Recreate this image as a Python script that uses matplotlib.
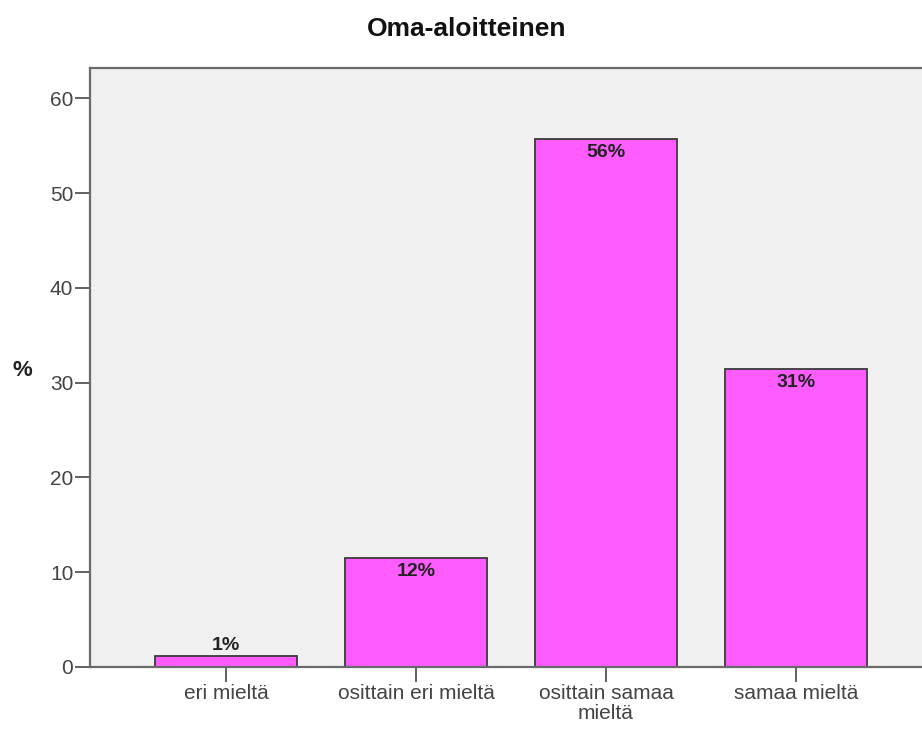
import numpy as np
import matplotlib
matplotlib.use("Agg")
import matplotlib.pyplot as plt

# data
categories = ["eri mieltä", "osittain eri mieltä", "osittain samaa\nmieltä", "samaa mieltä"]
values = [1.2, 11.5, 55.7, 31.4]
labels = ["1%", "12%", "56%", "31%"]
y_ticks = [0, 10, 20, 30, 40, 50, 60]

plt.rcParams['font.family'] = ['Liberation Sans', 'DejaVu Sans']

fig = plt.figure(figsize=(9.22, 7.35), dpi=100)
ax = fig.add_axes([90/922, 68/735, (932-90)/922, (667-68)/735])
ax.set_facecolor("#f0f0f0")

x = np.arange(len(categories))
bars = ax.bar(x, values, width=0.747, color="#ff5cff", edgecolor="#3a3a3a", linewidth=1.3, zorder=2)

for i, (b, v) in enumerate(zip(bars, values)):
    if v < 5:
        ax.text(b.get_x() + b.get_width()/2, v + 0.2, labels[i], ha="center", va="bottom",
                fontsize=14, fontweight="bold", color="#222222")
    else:
        ax.text(b.get_x() + b.get_width()/2, v - 0.5, labels[i], ha="center", va="top",
                fontsize=14, fontweight="bold", color="#222222")

ax.set_xlim(-0.716, 3.716)
ax.set_ylim(0, 63.2)
ax.set_xticks(x)
ax.set_xticklabels(categories, fontsize=15, color="#444444", linespacing=1.1)
ax.set_yticks(y_ticks)
ax.set_yticklabels([str(t) for t in y_ticks], fontsize=15, color="#444444")
ax.tick_params(axis="both", direction="out", length=11, width=1.3, color="#555555", pad=1)

for s in ax.spines.values():
    s.set_color("#6a6a6a")
    s.set_linewidth(1.6)

fig.text(22/922, 1 - 370/735, "%", ha="center", va="center",
         fontsize=16, fontweight="bold", color="#222222")

fig.text(467/922, 1 - 29/735, "Oma-aloitteinen", ha="center", va="center",
         fontsize=19, fontweight="bold", color="#111111")

fig.savefig("out.png", dpi=100)
